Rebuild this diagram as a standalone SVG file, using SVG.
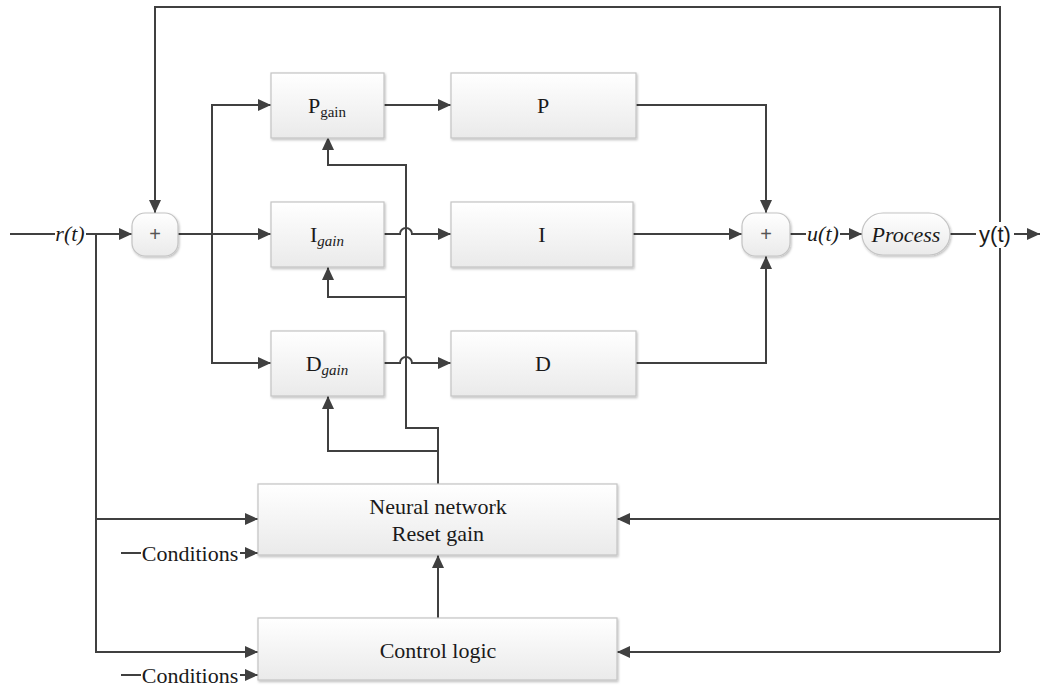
<svg xmlns="http://www.w3.org/2000/svg" width="1044" height="686" viewBox="0 0 1044 686">
<defs>
<linearGradient id="g" x1="0" y1="0" x2="0" y2="1">
<stop offset="0" stop-color="#ffffff"/>
<stop offset="1" stop-color="#eaeaea"/>
</linearGradient>
<filter id="sh" x="-10%" y="-10%" width="130%" height="130%">
<feDropShadow dx="1" dy="1.5" stdDeviation="1" flood-color="#000" flood-opacity="0.25"/>
</filter>
<marker id="ar" markerWidth="14" markerHeight="12" refX="13" refY="6" orient="auto" markerUnits="userSpaceOnUse">
<path d="M0,0 L13,6 L0,12 Z" fill="#404040"/>
</marker>
</defs>
<style>
.box{fill:url(#g);stroke:#c4c4c4;stroke-width:1.2;filter:url(#sh)}
.ln{fill:none;stroke:#404040;stroke-width:2}
.t{font-family:"Liberation Serif","Times New Roman",serif;font-size:22px;fill:#1a1a1a;text-anchor:middle}
.it{font-style:italic}
.sub{font-size:15px}
.plus{font-family:"Liberation Sans",Arial,sans-serif;font-size:20px;fill:#555;text-anchor:middle}
.sans{font-family:"Liberation Sans",Arial,sans-serif}
</style>
<rect width="1044" height="686" fill="#fff"/>
<g id="connectors">
<path class="ln" d="M10,234 H55"/>
<path class="ln" d="M86,234 H132" marker-end="url(#ar)"/>
<path class="ln" d="M1000,652 V7 H155 V213" marker-end="url(#ar)"/>
<path class="ln" d="M178,234 H271" marker-end="url(#ar)"/>
<path class="ln" d="M212,234 V105 H271" marker-end="url(#ar)"/>
<path class="ln" d="M212,234 V363 H271" marker-end="url(#ar)"/>
<path class="ln" d="M384,105 H451" marker-end="url(#ar)"/>
<path class="ln" d="M384,234 H400 a6,6 0 0 1 12,0 H451" marker-end="url(#ar)"/>
<path class="ln" d="M384,363 H400 a6,6 0 0 1 12,0 H451" marker-end="url(#ar)"/>
<path class="ln" d="M636,105 H766 V213" marker-end="url(#ar)"/>
<path class="ln" d="M633,234 H742" marker-end="url(#ar)"/>
<path class="ln" d="M636,363 H766 V256" marker-end="url(#ar)"/>
<path class="ln" d="M790,234 H806"/>
<path class="ln" d="M840,234 H862" marker-end="url(#ar)"/>
<path class="ln" d="M950,234 H976"/>
<path class="ln" d="M1014,234 H1040" marker-end="url(#ar)"/>
<path class="ln" d="M438,484 V428 H406 V165 H328 V137" marker-end="url(#ar)"/>
<path class="ln" d="M406,297 H328 V267" marker-end="url(#ar)"/>
<path class="ln" d="M438,451 H328 V396" marker-end="url(#ar)"/>
<path class="ln" d="M438,618 V555" marker-end="url(#ar)"/>
<path class="ln" d="M96,234 V652 H258" marker-end="url(#ar)"/>
<path class="ln" d="M96,519 H258" marker-end="url(#ar)"/>
<path class="ln" d="M1000,519 H617" marker-end="url(#ar)"/>
<path class="ln" d="M1000,652 H617" marker-end="url(#ar)"/>
<path class="ln" d="M121,553 H141"/>
<path class="ln" d="M240,553 H258" marker-end="url(#ar)"/>
<path class="ln" d="M121,675 H141"/>
<path class="ln" d="M240,675 H258" marker-end="url(#ar)"/>
<rect x="976" y="222" width="38" height="26" fill="#fff"/>
<text class="t it" x="70" y="241">r(t)</text>
<text class="t it" x="823" y="241">u(t)</text>
<text class="t sans" x="995" y="242">y(t)</text>
<text class="t" x="190" y="561">Conditions</text>
<text class="t" x="190" y="683">Conditions</text>
</g>
<g id="sum1">
<rect class="box" x="132" y="213" width="46" height="43" rx="13"/>
<text class="plus" x="155" y="241">+</text>
</g>
<g id="pgain">
<rect class="box" x="271" y="73" width="113" height="65"/>
<text class="t" x="327" y="113">P<tspan class="sub" dy="4">gain</tspan></text>
</g>
<g id="p">
<rect class="box" x="451" y="73" width="185" height="65"/>
<text class="t" x="543" y="113">P</text>
</g>
<g id="igain">
<rect class="box" x="271" y="202" width="113" height="65"/>
<text class="t" x="327" y="242">I<tspan class="sub it" dy="4">gain</tspan></text>
</g>
<g id="i">
<rect class="box" x="451" y="202" width="182" height="65"/>
<text class="t" x="542" y="242">I</text>
</g>
<g id="dgain">
<rect class="box" x="271" y="331" width="113" height="65"/>
<text class="t" x="327" y="371">D<tspan class="sub it" dy="4">gain</tspan></text>
</g>
<g id="d">
<rect class="box" x="451" y="331" width="185" height="65"/>
<text class="t" x="543" y="371">D</text>
</g>
<g id="sum2">
<rect class="box" x="742" y="213" width="48" height="43" rx="13"/>
<text class="plus" x="766" y="241">+</text>
</g>
<g id="process">
<rect class="box" x="862" y="213" width="88" height="42" rx="21"/>
<text class="t it" x="906" y="242">Process</text>
</g>
<g id="neural">
<rect class="box" x="258" y="484" width="359" height="71"/>
<text class="t" x="438" y="514">Neural network</text>
<text class="t" x="438" y="541">Reset gain</text>
</g>
<g id="control">
<rect class="box" x="258" y="618" width="359" height="62"/>
<text class="t" x="438" y="658">Control logic</text>
</g>
</svg>
